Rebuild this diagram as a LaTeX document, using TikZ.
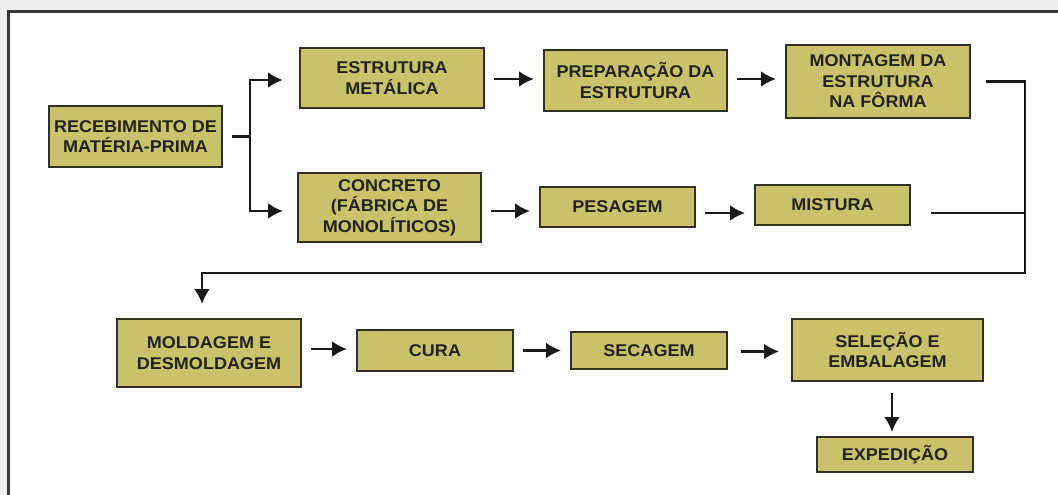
\documentclass[tikz,border=0pt]{standalone}
\usepackage{fontspec}
\setmainfont{Liberation Sans}[FakeStretch=1.06]
\usetikzlibrary{arrows.meta,calc}
\definecolor{boxfill}{RGB}{201,194,106}
\definecolor{boxline}{RGB}{50,48,34}
\definecolor{txt}{RGB}{36,34,24}
\definecolor{lin}{RGB}{25,25,25}
\definecolor{frame}{RGB}{56,56,56}
\definecolor{outer}{RGB}{238,238,238}
\tikzset{
  box/.style={draw=boxline, line width=1.8pt, fill=boxfill, text=txt,
    font=\fontsize{17}{20.5}\selectfont\bfseries, align=center,
    inner sep=0pt, outer sep=0pt},
  conn/.style={draw=lin, line width=2.7pt},
  tip/.style={-{Latex[length=15pt,width=16pt]}},
  arr/.style={conn, tip, shorten >=10pt, shorten <=10pt},
}
\begin{document}
\begin{tikzpicture}[x=1pt,y=-1pt]
\useasboundingbox (0,0) rectangle (1058,495);
\fill[outer] (0,0) rectangle (1058,495);
\fill[white] (8,12) rectangle (1058,495);
\draw[frame, line width=3pt] (8,495) -- (8,12) -- (1058,12);

\node[box, minimum width=173pt, minimum height=61pt] (rec) at (135.5,136.5) {RECEBIMENTO DE\\MATÉRIA-PRIMA};
\node[box, minimum width=184pt, minimum height=60pt] (est) at (392,78) {ESTRUTURA\\METÁLICA};
\node[box, minimum width=183pt, minimum height=61pt] (prep) at (635.5,80.5) {PREPARAÇÃO DA\\ESTRUTURA};
\node[box, minimum width=184pt, minimum height=73pt] (mont) at (878,81.5) {MONTAGEM DA\\ESTRUTURA\\NA FÔRMA};
\node[box, minimum width=183pt, minimum height=69pt] (conc) at (389.5,207.5) {CONCRETO\\(FÁBRICA DE\\MONOLÍTICOS)};
\node[box, minimum width=155pt, minimum height=40pt] (pes) at (617.5,207) {PESAGEM};
\node[box, minimum width=155pt, minimum height=40pt] (mist) at (832.5,205) {MISTURA};
\node[box, minimum width=184pt, minimum height=68pt] (mold) at (209,353) {MOLDAGEM E\\DESMOLDAGEM};
\node[box, minimum width=156pt, minimum height=41pt] (cura) at (435,350.5) {CURA};
\node[box, minimum width=156pt, minimum height=37pt] (sec) at (649,350.5) {SECAGEM};
\node[box, minimum width=191pt, minimum height=62pt] (sel) at (887.5,350) {SELEÇÃO E\\EMBALAGEM};
\node[box, minimum width=156pt, minimum height=35pt] (exp) at (895,454.5) {EXPEDIÇÃO};

% fork from raw material
\coordinate (fork) at (250,136.5);
\draw[conn] ([xshift=10pt]rec.east) -- (fork);
\draw[conn, tip] (fork) |- ([xshift=-17pt,yshift=-2pt]est.west);
\draw[conn, tip] (fork) |- ([xshift=-15pt,yshift=-3.5pt]conc.west);

% top row
\draw[arr] ([yshift=-1pt]est.east) -- ([yshift=-1pt]est.east -| prep.west);
\draw[arr] ([yshift=1.5pt]prep.east) -- ([yshift=1.5pt]prep.east -| mont.west);
% middle row
\draw[arr] ([yshift=-3.5pt]conc.east) -- ([yshift=-3.5pt]conc.east -| pes.west);
\draw[arr] ([yshift=-6pt]pes.east) -- ([yshift=-6pt]pes.east -| mist.west);

% collector on the right
\coordinate (jt) at (1025,80);
\coordinate (jb) at (1025,273);
\draw[conn] ([xshift=16pt]mont.east) -- ([xshift=1.35pt]mont.east -| jt);
\draw[conn] ([xshift=21pt,yshift=-8pt]mist.east) -- ([yshift=-8pt]mist.east -| jt);
\draw[conn, line join=miter, tip] (jt) -- (jb) -| ([xshift=-7pt,yshift=15pt]mold.north);

% bottom row
\draw[arr] ([yshift=4pt]mold.east) -- ([yshift=4pt]mold.east -| cura.west);
\draw[arr] (cura.east) -- (cura.east -| sec.west);
\draw[arr, shorten <=14pt, shorten >=13pt] ([yshift=-1pt]sec.east) -- ([yshift=-1pt]sec.east -| sel.west);
\draw[arr, shorten <=12pt, shorten >=5pt] ([xshift=4.5pt]sel.south) -- ([xshift=4.5pt]sel.south |- exp.north);
\end{tikzpicture}
\end{document}
